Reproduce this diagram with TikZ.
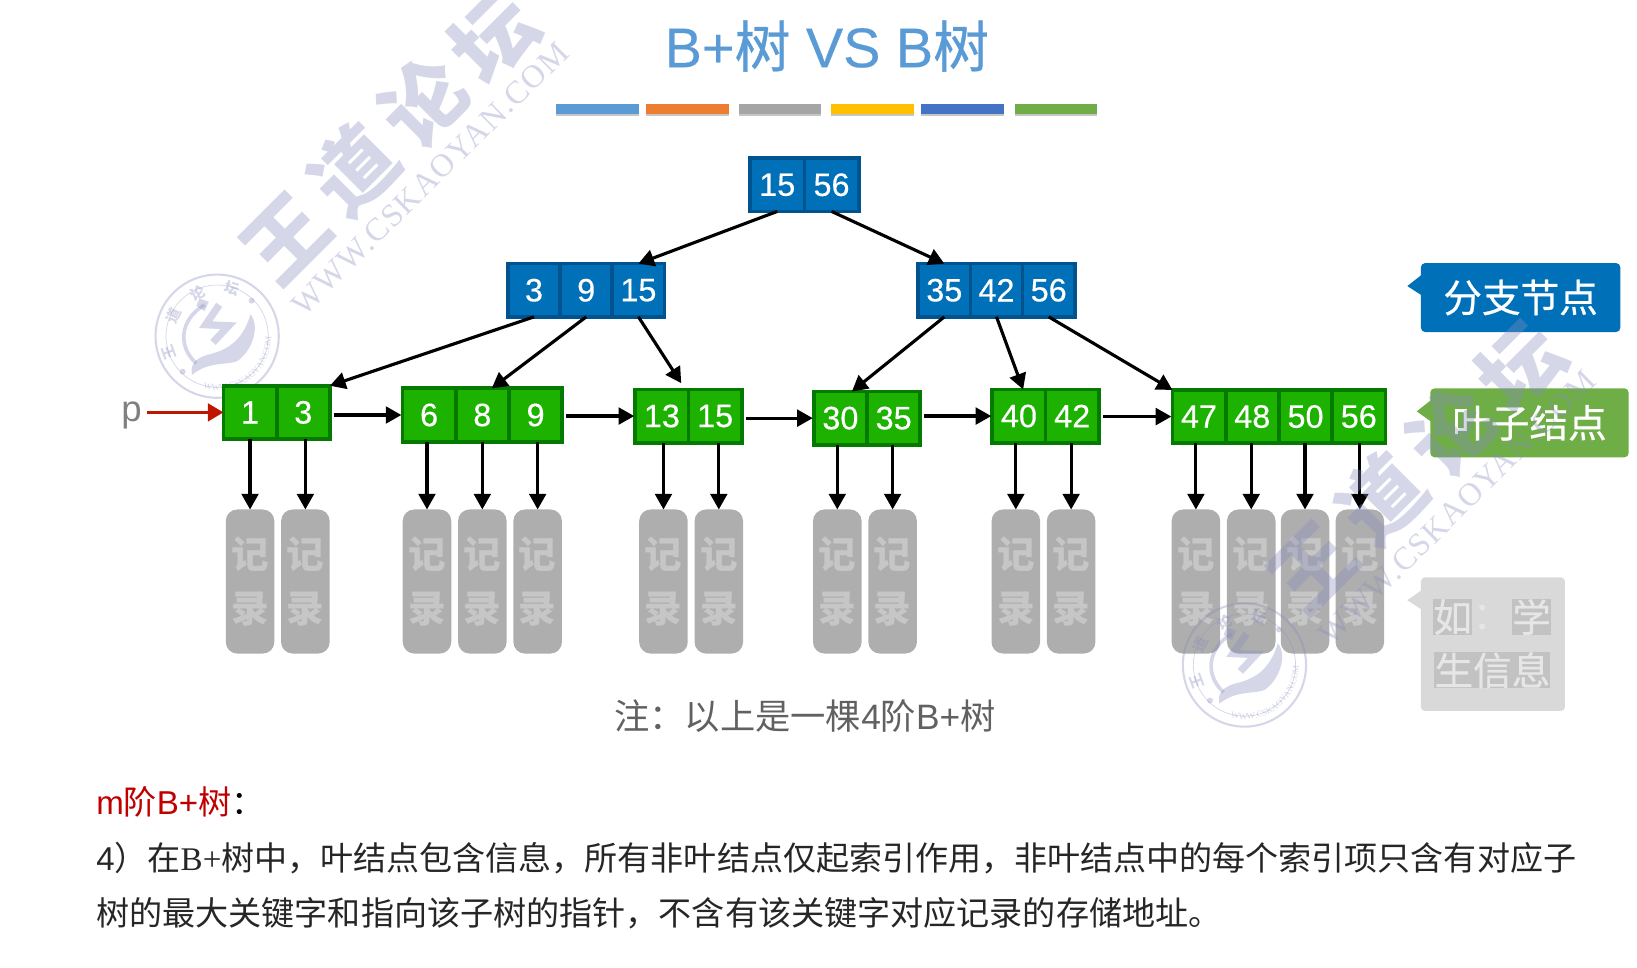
\documentclass[tikz,border=0pt]{standalone}
\usepackage{fontspec}
\setmainfont{Liberation Sans}
\newfontfamily\zhfont{Noto Sans CJK SC}
\newfontfamily\zhmid[FakeBold=0.6]{Noto Sans CJK SC}
\newfontfamily\nummid[FakeBold=0.35]{Liberation Sans}
\newfontfamily\serifb{Liberation Serif}
\newfontfamily\urlfont[LetterSpace=4]{Liberation Serif}
\usepackage{tikz}
\usetikzlibrary{arrows.meta, positioning, shadows, decorations.text}
\usepackage{xcolor}
\definecolor{blueFill}{HTML}{0070B8}
\definecolor{blueEdge}{HTML}{00538F}
\definecolor{greenFill}{HTML}{1DB100}
\definecolor{greenEdge}{HTML}{047A00}
\definecolor{recFill}{HTML}{AEAEAE}
\definecolor{recText}{HTML}{C6C6C6}
\definecolor{leafTag}{HTML}{6FAD47}
\definecolor{infoFill}{HTML}{D9D9D9}
\definecolor{infoBack}{HTML}{C2C2C2}
\definecolor{infoText}{HTML}{E6E6E6}
\definecolor{titleBlue}{HTML}{5B9BD5}
\definecolor{markInk}{HTML}{878DBD}
\definecolor{redHead}{HTML}{C00000}
\definecolor{redArrow}{HTML}{BF1600}
\newcommand{\zh}[1]{{\zhfont #1}}
\newcommand{\fsz}[1]{\fontsize{#1}{#1}\selectfont}

\begin{document}
\begin{tikzpicture}[
  x=1pt, y=-1pt,
  node distance=0pt and 0pt,
  cellnode/.style={rectangle, draw, line width=3.6pt, outer sep=0pt, inner sep=0pt, minimum width=51pt, minimum height=51pt, text=white, font=\fsz{31}\nummid},
  bluenode/.style={cellnode, fill=blueFill, draw=blueEdge},
  greennode/.style={cellnode, fill=greenFill, draw=greenEdge},
  recnode/.style={rectangle, rounded corners=11pt, fill=recFill, text=recText, outer sep=0pt, inner sep=0pt, minimum width=46.5pt, minimum height=138pt, align=center, font=\fontsize{36}{52}\selectfont\zhfont\bfseries},
  barnode/.style={rectangle, outer sep=0pt, inner sep=0pt, minimum width=79pt, minimum height=9pt, drop shadow={shadow xshift=0pt, shadow yshift=-2.5pt, opacity=.45}},
  tagnode/.style={rectangle, rounded corners=4pt, inner sep=0pt, text=white, font=\fsz{37}\zhmid},
  infonode/.style={inner sep=0pt, fill=infoBack, text=infoText, font=\fsz{37}\zhmid},
  arr/.style={-{Triangle[length=15pt, width=16pt]}, line width=3pt, black},
  linkarr/.style={arr, shorten <=4pt, shorten >=1pt},
  redarr/.style={-{Triangle[length=15pt, width=17pt]}, line width=3pt, redArrow},
  glyphnode/.style={rotate=45, font=\fsz{79}\zhfont\bfseries, text=markInk},
  wmark/.pic={
    \begin{scope}[opacity=.35, markInk]
      \node[glyphnode] (mark1) at (274,229) {王};
      \node[glyphnode] (mark2) at (339,162) {道};
      \node[glyphnode] (mark3) at (406,98) {论};
      \node[glyphnode] (mark4) at (473,36) {坛};
      \node[rotate=44.5, font=\fsz{31}\urlfont, text=markInk] (url) at (412,171) {WWW.CSKAOYAN.COM};
      % Stamp
      \begin{scope}[shift={(208,322)}]
        \draw[line width=2pt] (0,0) circle (59);
        \draw[line width=.7pt] (0,0) circle (49);
        \node[rotate=110, font=\fsz{14}\zhfont\bfseries, text=markInk] (ring1) at (-46,16) {王};
        \node[rotate=65, font=\fsz{14}\zhfont\bfseries, text=markInk] (ring2) at (-42,-20) {道};
        \node[rotate=25, font=\fsz{14}\zhfont\bfseries, text=markInk] (ring3) at (-19,-41) {论};
        \node[rotate=-17, font=\fsz{14}\zhfont\bfseries, text=markInk] (ring4) at (14,-46) {坛};
        \path[decorate, decoration={text along path, text align=center, text={|\fsz{8.5}\serifb\color{markInk}|WWW.CSKAOYAN.COM}}]
          (125:52) arc[start angle=125, end angle=-20, radius=52];
        \fill (33,-34) circle (2.8);
        \fill (-33,34) circle (2.8);
        \draw[line width=3.5pt] (-12,-30) .. controls (-36,-16) and (-38,10) .. (-20,26);
        \fill (-17,-36) -- (-8,-33) -- (-12,-24) -- (-20,-29) -- cycle;
        \draw[line width=7pt] (2,-30) -- (-11,-11) -- (11,-10) -- (-4,6);
        \fill (-24,37) .. controls (-26,28) and (-22,22) .. (-10,18) .. controls (8,14) and (24,6) .. (32,-21)
          .. controls (42,-8) and (32,16) .. (19,24) .. controls (8,28) and (-8,24) .. cycle;
      \end{scope}
    \end{scope}
  }
]
\useasboundingbox (0,0) rectangle (1568,927);
\clip (0,0) rectangle (1568,927);

% Mark behind the tree
\pic (back) at (0,0) {wmark};

% Title
\node[text=titleBlue, font=\fsz{53.5}\nummid] (title) at (792,44) {B+{\zhmid 树} VS B{\zhmid 树}};
\node[barnode, fill=titleBlue] (bar1) at (572.5,104.5) {};
\node[barnode, fill={rgb,255:red,237;green,125;blue,49}] (bar2) at (658.5,104.5) {};
\node[barnode, fill={rgb,255:red,165;green,165;blue,165}] (bar3) at (747,104.5) {};
\node[barnode, fill={rgb,255:red,255;green,192;blue,0}] (bar4) at (835.5,104.5) {};
\node[barnode, fill={rgb,255:red,68;green,114;blue,196}] (bar5) at (922,104.5) {};
\node[barnode, fill={rgb,255:red,112;green,173;blue,71}] (bar6) at (1011.5,104.5) {};

% Nodes
\node[bluenode, minimum width=52pt] (root1) at (744.5,177) {15};
\node[bluenode, minimum width=52pt, right=of root1] (root2) {56};

\node[bluenode, minimum width=50pt] (bl1) at (511.5,278) {3};
\node[bluenode, minimum width=50pt, right=of bl1] (bl2) {9};
\node[bluenode, minimum width=50pt, right=of bl2] (bl3) {15};

\node[bluenode, minimum width=50pt] (br1) at (904.5,278) {35};
\node[bluenode, minimum width=50pt, right=of br1] (br2) {42};
\node[bluenode, minimum width=50pt, right=of br2] (br3) {56};

\node[greennode] (la1) at (239.5,395) {1};
\node[greennode, right=of la1] (la2) {3};

\node[greennode] (lb1) at (411,397.5) {6};
\node[greennode, right=of lb1] (lb2) {8};
\node[greennode, right=of lb2] (lb3) {9};

\node[greennode] (lc1) at (634,398.5) {13};
\node[greennode, right=of lc1] (lc2) {15};

\node[greennode] (ld1) at (805,400.5) {30};
\node[greennode, right=of ld1] (ld2) {35};

\node[greennode] (le1) at (976,398.5) {40};
\node[greennode, right=of le1] (le2) {42};

\node[greennode] (lf1) at (1148.5,399) {47};
\node[greennode, right=of lf1] (lf2) {48};
\node[greennode, right=of lf2] (lf3) {50};
\node[greennode, right=of lf3] (lf4) {56};

\node[recnode] (ra1) at (239.5,557) {记\\录};
\node[recnode, right=6.5pt of ra1] (ra2) {记\\录};

\node[recnode] (rb1) at (409,557) {记\\录};
\node[recnode, right=6.5pt of rb1] (rb2) {记\\录};
\node[recnode, right=6.5pt of rb2] (rb3) {记\\录};

\node[recnode] (rc1) at (635.5,557) {记\\录};
\node[recnode, right=6.5pt of rc1] (rc2) {记\\录};

\node[recnode] (rd1) at (802,557) {记\\录};
\node[recnode, right=6.5pt of rd1] (rd2) {记\\录};

\node[recnode] (re1) at (973,557) {记\\录};
\node[recnode, right=6.5pt of re1] (re2) {记\\录};

\node[recnode] (rf1) at (1145.5,557) {记\\录};
\node[recnode, right=6.5pt of rf1] (rf2) {记\\录};
\node[recnode, right=5pt of rf2] (rf3) {记\\录};
\node[recnode, right=6pt of rf3] (rf4) {记\\录};

\node[text=black!50, font=\fsz{35}, inner sep=0pt] (p) at (126,398) {p};

% Tags
\fill[blueFill] (1362,263) -- (1348,274) -- (1362,283) -- cycle;
\node[tagnode, fill=blueFill, minimum width=191pt, minimum height=66pt] (tag1) at (1456.5,285) {分支节点};
\fill[leafTag] (1371,383) -- (1357,394) -- (1371,404) -- cycle;
\node[tagnode, fill=leafTag, minimum width=190pt, minimum height=66pt] (tag2) at (1465,405) {叶子结点};
\fill[infoFill] (1362,565) -- (1348,575) -- (1362,584) -- cycle;
\node[tagnode, fill=infoFill, minimum width=138pt, minimum height=128pt] (tag3) at (1430,617) {};
\node[infonode] (info1) at (1391.5,591) {如};
\node[text=infoText, font=\fsz{37}\zhmid, inner sep=0pt] (info2) at (1429,591) {：};
\node[infonode] (info3) at (1467,591) {学};
\node[infonode] (info4) at (1429.5,642) {生信息};

% Edges
\draw[arr] (root1.south) -- (bl3.north);
\draw[arr] (root2.south) -- (br1.north);

\draw[arr] (bl1.south) -- (la2.north east);
\draw[arr] (bl2.south) -- ([xshift=9pt]lb2.north);
\draw[arr] (bl3.south) -- ([xshift=-7pt, yshift=6pt]lc2.north west);

\draw[arr] (br1.south) -- ([xshift=11pt]ld1.north);
\draw[arr] (br2.south) -- ([xshift=4pt]le1.north);
\draw[arr] (br3.south) -- (lf1.north west);

\draw[redarr] ([xshift=5pt]p.east |- la1.west) -- (la1.west);
\draw[linkarr] (la2.east |- lb1.west) -- (lb1.west);
\draw[linkarr] (lb3.east |- lc1.west) -- (lc1.west);
\draw[linkarr] (lc2.east |- ld1.west) -- (ld1.west);
\draw[linkarr] (ld2.east |- le1.west) -- (le1.west);
\draw[linkarr] (le2.east |- lf1.west) -- (lf1.west);

\draw[arr] (ra1.north |- la1.south) -- (ra1.north);
\draw[arr] (ra2.north |- la2.south) -- (ra2.north);
\draw[arr] (rb1.north |- lb1.south) -- (rb1.north);
\draw[arr] (rb2.north |- lb2.south) -- (rb2.north);
\draw[arr] (rb3.north |- lb3.south) -- (rb3.north);
\draw[arr] (rc1.north |- lc1.south) -- (rc1.north);
\draw[arr] (rc2.north |- lc2.south) -- (rc2.north);
\draw[arr] (rd1.north |- ld1.south) -- (rd1.north);
\draw[arr] (rd2.north |- ld2.south) -- (rd2.north);
\draw[arr] (re1.north |- le1.south) -- (re1.north);
\draw[arr] (re2.north |- le2.south) -- (re2.north);
\draw[arr] (rf1.north |- lf1.south) -- (rf1.north);
\draw[arr] (rf2.north |- lf2.south) -- (rf2.north);
\draw[arr] (rf3.north |- lf3.south) -- (rf3.north);
\draw[arr] (rf4.north |- lf4.south) -- (rf4.north);

% Texts
\node[text=black!62, font=\fsz{33.8}] (note) at (771,686) {\zh{注：以上是一棵}4\zh{阶}B+\zh{树}};
\node[anchor=west, inner sep=0pt, font=\fsz{31.7}] (head) at (92,768) {\textcolor{redHead}{m\zh{阶}B+\zh{树}}\zh{：}};
\node[anchor=west, inner sep=0pt, text=black!85, font=\fsz{31.65}] (line1) at (92,822) {4\zh{）在}{\serifb B+}\zh{树中，叶结点包含信息，所有非叶结点仅起索引作用，非叶结点中的每个索引项只含有对应子}};
\node[anchor=west, inner sep=0pt, text=black!85, font=\fsz{31.7}] (line2) at (92,875) {\zh{树的最大关键字和指向该子树的指针，不含有该关键字对应记录的存储地址。}};

% Mark over the tree
\pic (front) at (984,315) {wmark};

\end{tikzpicture}
\end{document}
